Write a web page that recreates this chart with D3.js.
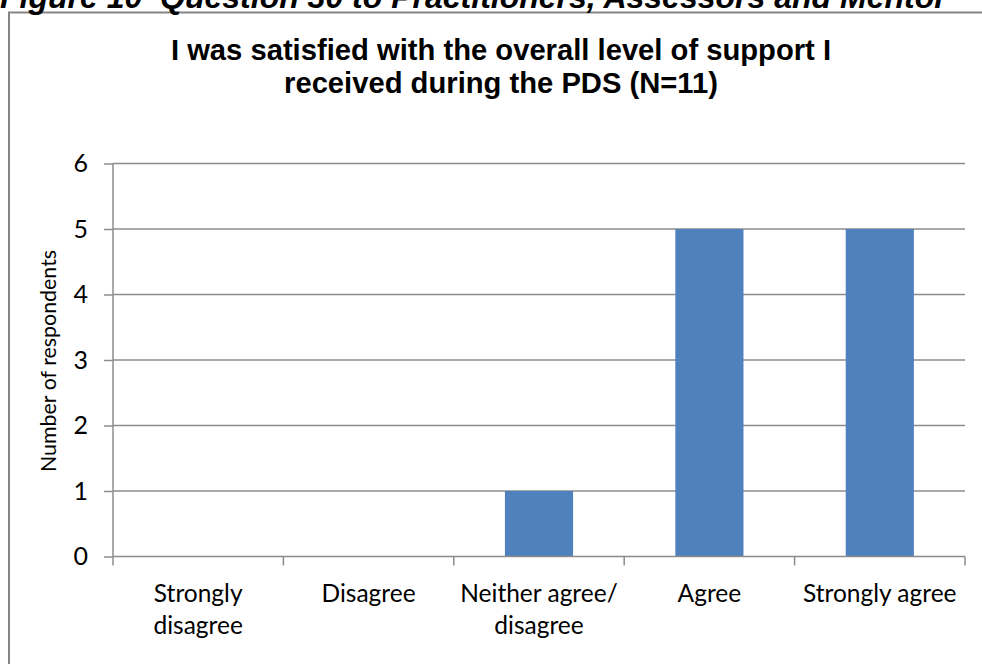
<!DOCTYPE html>
<html><head><meta charset="utf-8">
<script src="https://cdn.jsdelivr.net/npm/d3@7"></script>
<style>html,body{margin:0;padding:0;background:#fff;overflow:hidden}</style>
</head><body>
<svg id="c" width="982" height="664"></svg>
<script>
const caption = "Figure 10\u00A0\u00A0Question 30 to Practitioners, Assessors and Mentor";
const titleLines = ["I was satisfied with the overall level of support I", "received during the PDS (N=11)"];
const categories = ["Strongly disagree", "Disagree", "Neither agree/ disagree", "Agree", "Strongly agree"];
const counts = [0, 0, 1, 5, 5];
const yTicks = [0, 1, 2, 3, 4, 5, 6];
const yTitle = "Number of respondents";

const svg = d3.select("#c");
const M = {left: 113, right: 965, top: 163.5, bottom: 556.5};
const lab = "Lato, 'Noto Sans', sans-serif";

// outer chart border
svg.append("rect").attr("x", 9).attr("y", 12.5).attr("width", 990).attr("height", 700)
  .attr("fill", "#fff").attr("stroke", "#868686").attr("stroke-width", 2);

// caption (cut at top, as in the source page)
svg.append("text").attr("x", 0).attr("y", 8)
  .attr("font-family", "'Liberation Sans', Arial, sans-serif").attr("font-weight", "bold")
  .attr("font-style", "italic").attr("font-size", 32).attr("fill", "#000").text(caption);

// title
const tt = svg.append("text").attr("text-anchor", "middle")
  .attr("font-family", "'Liberation Sans', Arial, sans-serif").attr("font-weight", "bold")
  .attr("font-size", 29.2).attr("fill", "#000");
titleLines.forEach((l, i) => tt.append("tspan").attr("x", 501).attr("y", 60 + i * 33).text(l));

const x = d3.scaleBand().domain(categories).range([M.left, M.right]).paddingInner(0.6).paddingOuter(0.3);
const y = d3.scaleLinear().domain([0, 6]).range([M.bottom, M.top]);

// gridlines
svg.append("g").selectAll("line").data(yTicks.filter(d => d > 0)).join("line")
  .attr("x1", M.left).attr("x2", M.right).attr("y1", d => y(d)).attr("y2", d => y(d))
  .attr("stroke", "#8c8c8c").attr("stroke-width", 1.5);

// bars
svg.append("g").selectAll("rect").data(counts).join("rect")
  .attr("x", (d, i) => x(categories[i])).attr("width", x.bandwidth())
  .attr("y", d => y(d)).attr("height", d => y(0) - y(d)).attr("fill", "#4F81BD");

// y axis
const ya = svg.append("g").attr("transform", `translate(${M.left},0)`)
  .call(d3.axisLeft(y).tickValues(yTicks).tickSize(9).tickPadding(16).tickFormat(d3.format("d")));
ya.select(".domain").attr("stroke", "#8c8c8c").attr("stroke-width", 1.5).attr("d", `M-0,${M.top}V${M.bottom}`);
ya.selectAll(".tick line").attr("stroke", "#8c8c8c").attr("stroke-width", 1.5);
ya.selectAll(".tick text").attr("font-family", lab).attr("font-size", 25).attr("fill", "#000");

// x axis: ticks at category boundaries
const step = x.step();
const bounds = d3.range(categories.length + 1).map(i => M.left + i * (M.right - M.left) / categories.length);
const xa = svg.append("g");
xa.append("line").attr("x1", M.left).attr("x2", M.right).attr("y1", y(0)).attr("y2", y(0))
  .attr("stroke", "#8c8c8c").attr("stroke-width", 1.5);
xa.selectAll("line.t").data(bounds).join("line").attr("class", "t")
  .attr("x1", d => d).attr("x2", d => d).attr("y1", y(0)).attr("y2", y(0) + 9)
  .attr("stroke", "#8c8c8c").attr("stroke-width", 1.5);

// x labels, wrapped to band width
const xl = xa.selectAll("text").data(categories).join("text")
  .attr("text-anchor", "middle").attr("font-family", lab).attr("font-size", 24.5).attr("fill", "#000")
  .attr("x", d => x(d) + x.bandwidth() / 2);
xl.each(function(d) {
  const t = d3.select(this);
  const words = d.split(" ");
  let lines = [], cur = "";
  words.forEach(w => {
    const test = cur ? cur + " " + w : w;
    t.text(test);
    if (this.getComputedTextLength() > step * 0.95 && cur) { lines.push(cur); cur = w; } else cur = test;
  });
  lines.push(cur);
  t.text(null);
  lines.forEach((l, i) => t.append("tspan").attr("x", x(d) + x.bandwidth() / 2).attr("y", 602 + i * 32).text(l));
});

// y axis title
svg.append("text").attr("transform", "translate(56,361) rotate(-90)").attr("text-anchor", "middle")
  .attr("font-family", lab).attr("font-size", 21.4).attr("fill", "#000").text(yTitle);
</script>
</body></html>
